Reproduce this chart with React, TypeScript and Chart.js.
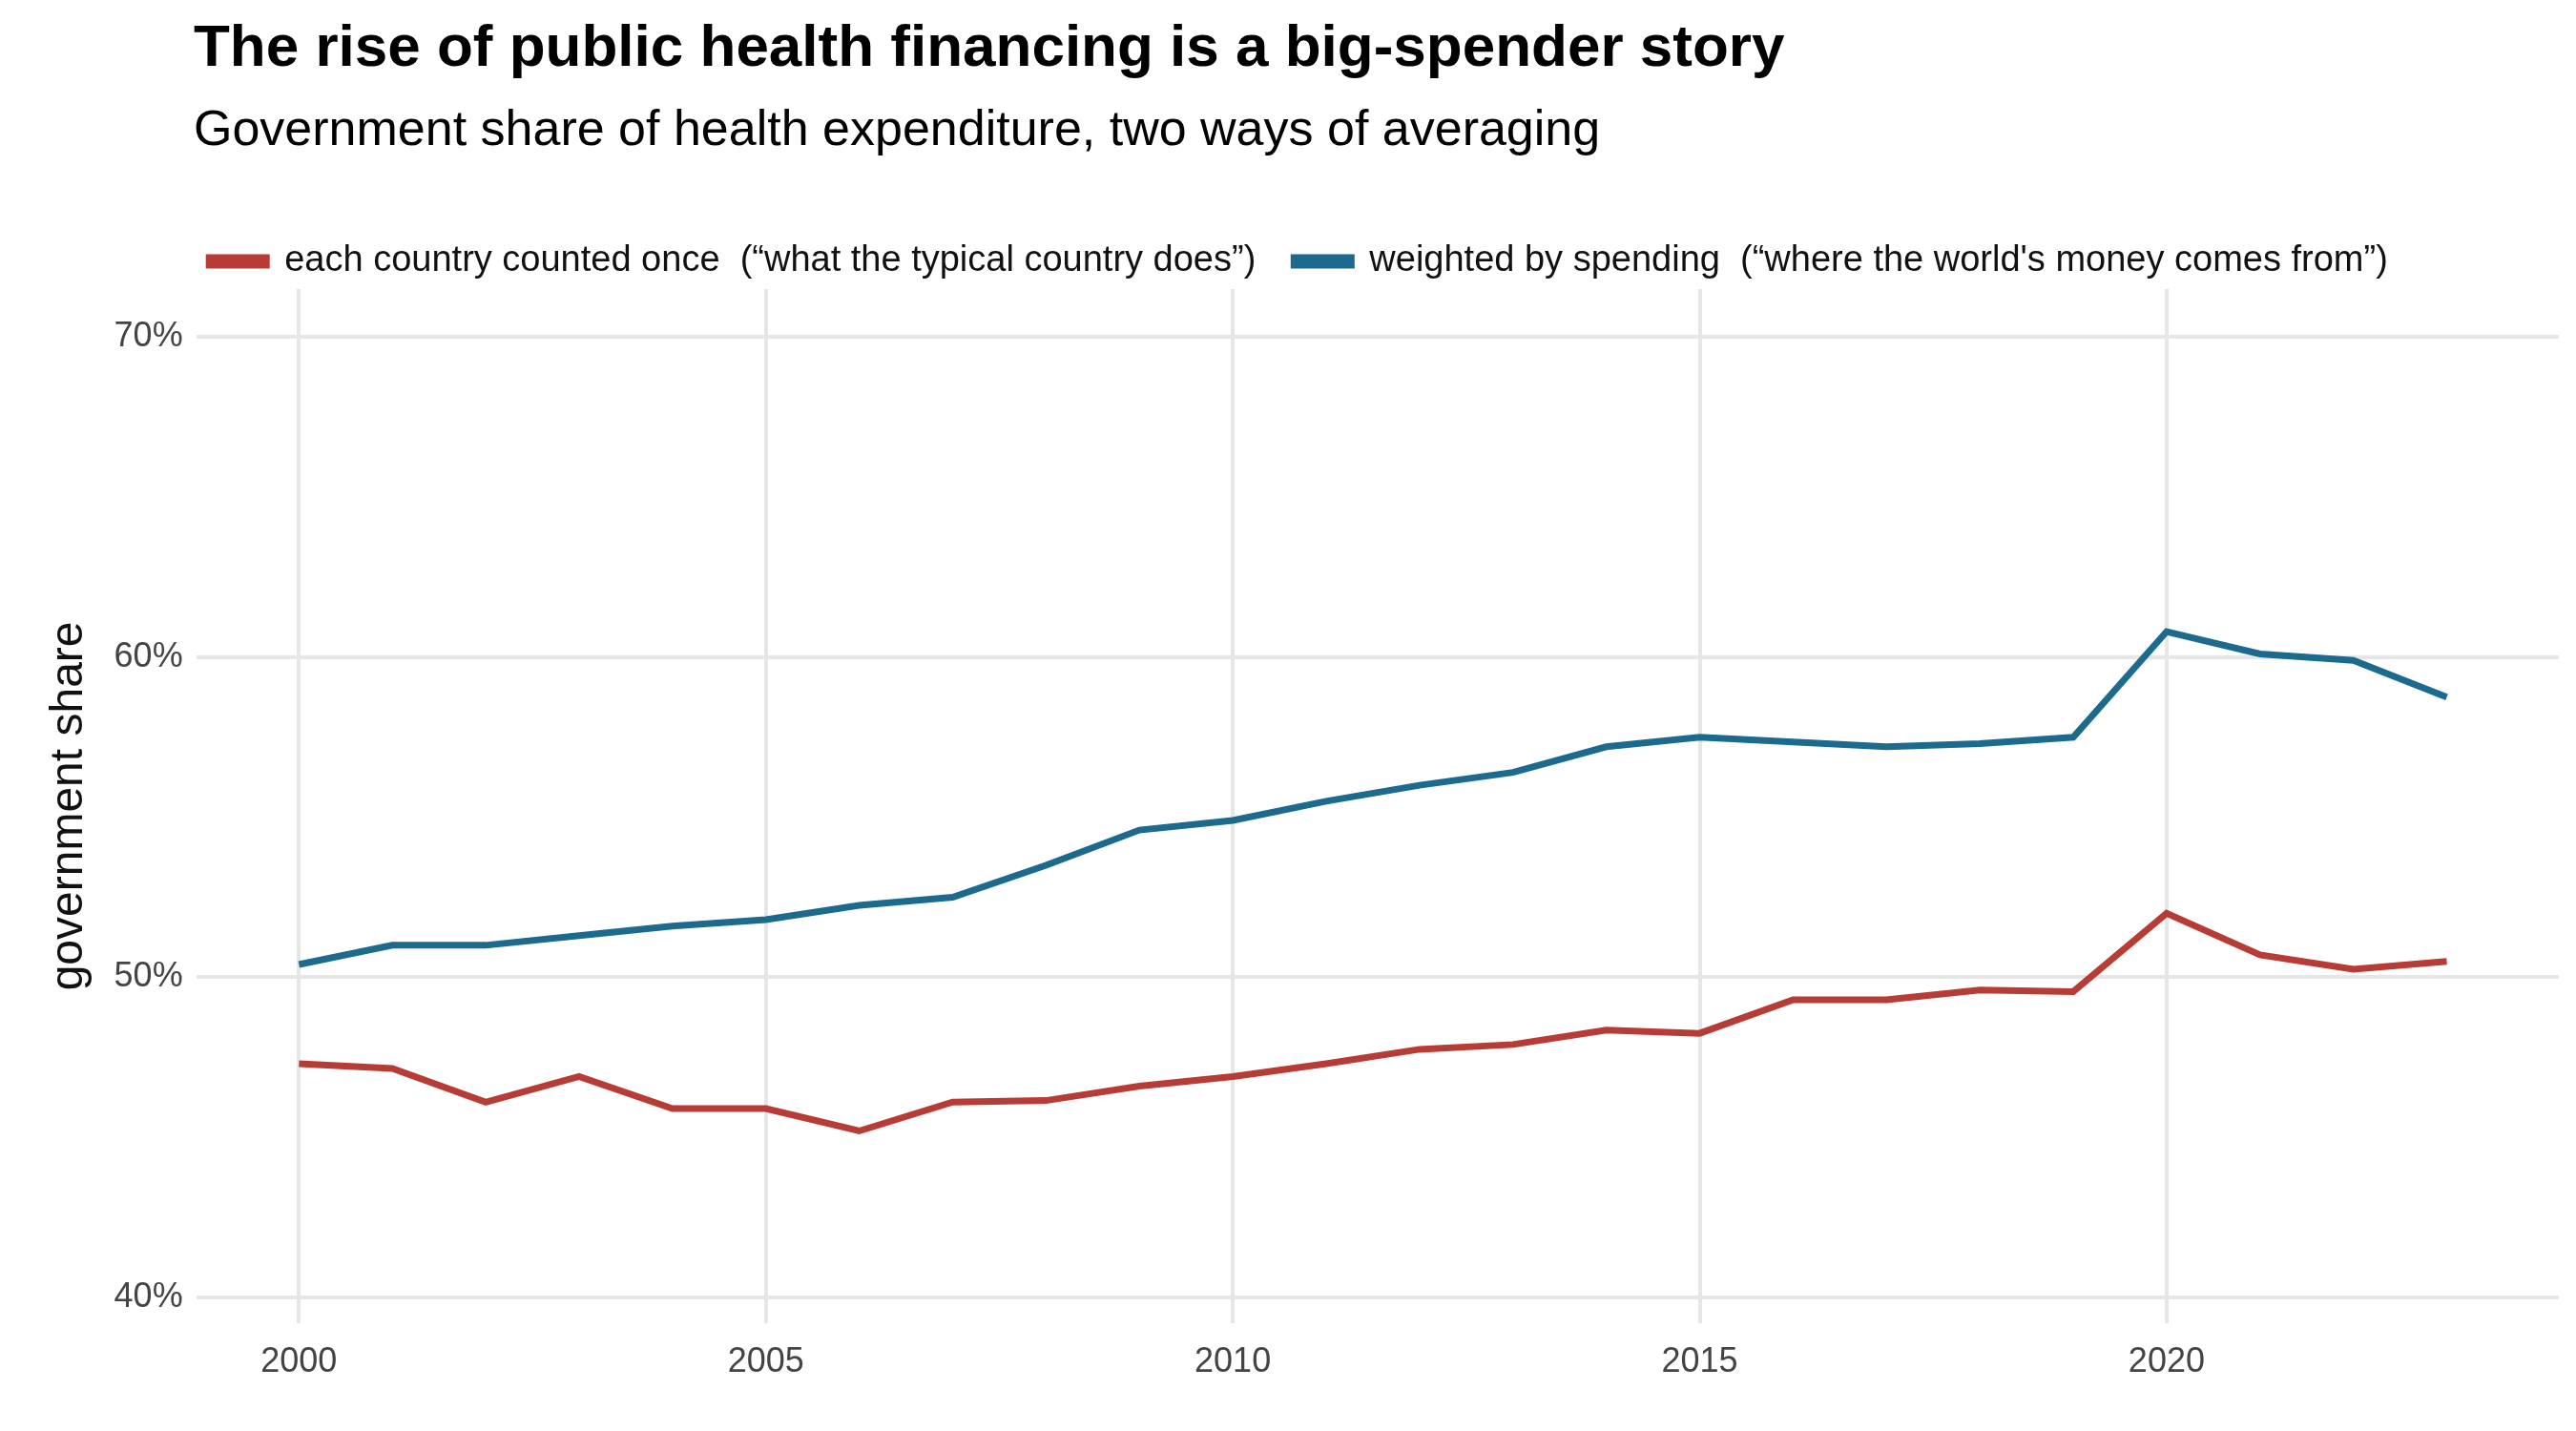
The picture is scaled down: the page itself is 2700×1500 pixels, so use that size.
import React, { useEffect, useRef } from "react";
import { Chart, registerables } from "chart.js";
Chart.register(...registerables);

const years = [2000,2001,2002,2003,2004,2005,2006,2007,2008,2009,2010,2011,2012,2013,2014,2015,2016,2017,2018,2019,2020,2021,2022,2023];
const unweighted = [47.3,47.15,46.1,46.9,45.9,45.9,45.2,46.1,46.15,46.6,46.9,47.3,47.75,47.9,48.35,48.25,49.3,49.3,49.6,49.55,52.0,50.7,50.25,50.5];
const weighted = [50.4,51.0,51.0,51.3,51.6,51.8,52.25,52.5,53.5,54.6,54.9,55.5,56.0,56.4,57.2,57.5,57.35,57.2,57.3,57.5,60.8,60.1,59.9,58.75];
const yTicks = [40, 50, 60, 70];

export default function App() {
  const ref = useRef<HTMLCanvasElement>(null);
  useEffect(() => {
    document.body.style.margin = "0";
    const c = new Chart(ref.current!, {
      type: "line",
      data: {
        datasets: [
          { label: "each country counted once  (\u201cwhat the typical country does\u201d)", data: years.map((x, i) => ({ x, y: unweighted[i] })), borderColor: "#b83c36", backgroundColor: "#b83c36", borderWidth: 7, pointRadius: 0, tension: 0 },
          { label: "weighted by spending  (\u201cwhere the world's money comes from\u201d)", data: years.map((x, i) => ({ x, y: weighted[i] })), borderColor: "#1c6a8e", backgroundColor: "#1c6a8e", borderWidth: 7, pointRadius: 0, tension: 0 },
        ],
      },
      options: {
        animation: false, responsive: false,
        layout: { padding: { top: 215, bottom: 30, right: 18, left: 40 } },
        plugins: {
          legend: {
            position: "top",
            afterFit: (l: any) => { l.height += 100; },
            labels: { font: { size: 38, family: "Liberation Sans, Arial" }, color: "#111", boxWidth: 60, boxHeight: 8, padding: 40 },
          } as any,
          tooltip: { enabled: false },
        },
        scales: {
          x: {
            type: "linear", min: 1998.9, max: 2024.2,
            afterBuildTicks: (s: any) => { s.ticks = [2000,2005,2010,2015,2020].map(v => ({ value: v })); },
            grid: { color: "#e6e6e6", lineWidth: 4, drawTicks: false },
            border: { display: false },
            ticks: { font: { size: 36, family: "Liberation Sans, Arial" }, color: "#444", padding: 20, callback: (v: any) => String(v) },
          },
          y: {
            min: 39.2, max: 71.5,
            afterBuildTicks: (s: any) => { s.ticks = yTicks.map(v => ({ value: v })); },
            grid: { color: "#e6e6e6", lineWidth: 4, drawTicks: false },
            border: { display: false },
            title: { display: true, text: "government share", font: { size: 48, family: "Liberation Sans, Arial" }, color: "#111", padding: 4 },
            ticks: { font: { size: 36, family: "Liberation Sans, Arial" }, color: "#444", padding: 14, callback: (v: any) => v + "%" },
          },
        },
      },
    });
    return () => c.destroy();
  }, []);
  return (
    <div style={{ position: "relative", width: 2700, height: 1500, background: "#fff", fontFamily: "Liberation Sans, Arial" }}>
      <canvas ref={ref} width={2700} height={1500} style={{ position: "absolute", left: 0, top: 0 }} />
      <div style={{ position: "absolute", left: 203, top: 12, fontSize: 62, fontWeight: "bold", color: "#000" }}>The rise of public health financing is a big-spender story</div>
      <div style={{ position: "absolute", left: 203, top: 104, fontSize: 52, color: "#000" }}>Government share of health expenditure, two ways of averaging</div>
    </div>
  );
}
